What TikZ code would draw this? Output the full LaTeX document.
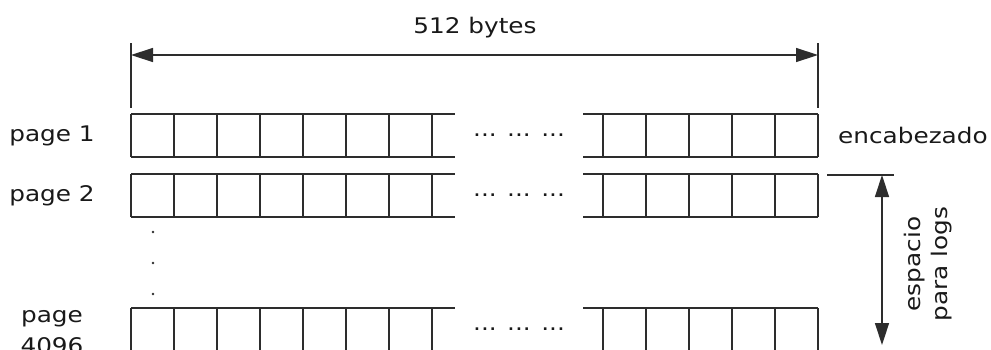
\documentclass[tikz,border=0pt]{standalone}
\usepackage{fontspec}
\setmainfont{DejaVu Sans}[FakeStretch=1.15]
\usetikzlibrary{arrows.meta}
\definecolor{linegray}{RGB}{45,45,45}
\definecolor{textgray}{RGB}{25,25,25}

\tikzset{
  cellline/.style={draw=linegray, line width=1.4pt},
  dimline/.style={draw=linegray, line width=1.4pt,
    {Triangle[length=22pt,width=14pt]}-{Triangle[length=22pt,width=14pt]}},
  lbl/.style={inner sep=0pt, text=textgray, font=\fontsize{21.5}{27}\selectfont},
}

\begin{document}
\begin{tikzpicture}[x=1pt,y=-1pt]
  \useasboundingbox (0,0) rectangle (991,349);
  % pages: left block of cells, gap, right block of cells
  \foreach \r/\y in {one/114,two/174,last/308} {
    \draw[cellline] (131,\y) -- (455,\y) (131,\y+43) -- (455,\y+43);
    \draw[cellline] (583,\y) -- (818,\y) (583,\y+43) -- (818,\y+43);
    \foreach \k in {0,...,7}
      \draw[cellline] (131+43*\k,\y) -- ++(0,43);
    \foreach \k in {0,...,5}
      \draw[cellline] (603+43*\k,\y) -- ++(0,43);
    \node[lbl] (gap-\r) at (519,\y+21) {... ... ...};
  }
  \node[lbl] (page1) at (52,136) {page 1};
  \node[lbl] (page2) at (52,196) {page 2};
  \node[lbl, align=center, anchor=north, font=\fontsize{21.5}{31}\selectfont]
    (pagelast) at (52,310) {page\\4096};
  \foreach \y in {232,263,294}
    \fill[linegray] (153,\y) circle (1.3pt);
  % page width
  \draw[cellline] (131,43) -- (131,108) (818,43) -- (818,108);
  \coordinate (wleft) at (131,55);
  \coordinate (wright) at (818,55);
  \draw[dimline] (wleft) -- (wright);
  \node[lbl] (width) at (475,28) {512 bytes};
  % header and log area
  \node[lbl, anchor=west] (header) at (838,135) {encabezado};
  \draw[cellline] (827,175) -- (894,175);
  \coordinate (logtop) at (882,175);
  \coordinate (logbot) at (882,345);
  \draw[dimline] (logtop) -- (logbot);
  \node[lbl, rotate=90, align=center] (logs) at (928,264) {espacio\\para logs};
\end{tikzpicture}
\end{document}
